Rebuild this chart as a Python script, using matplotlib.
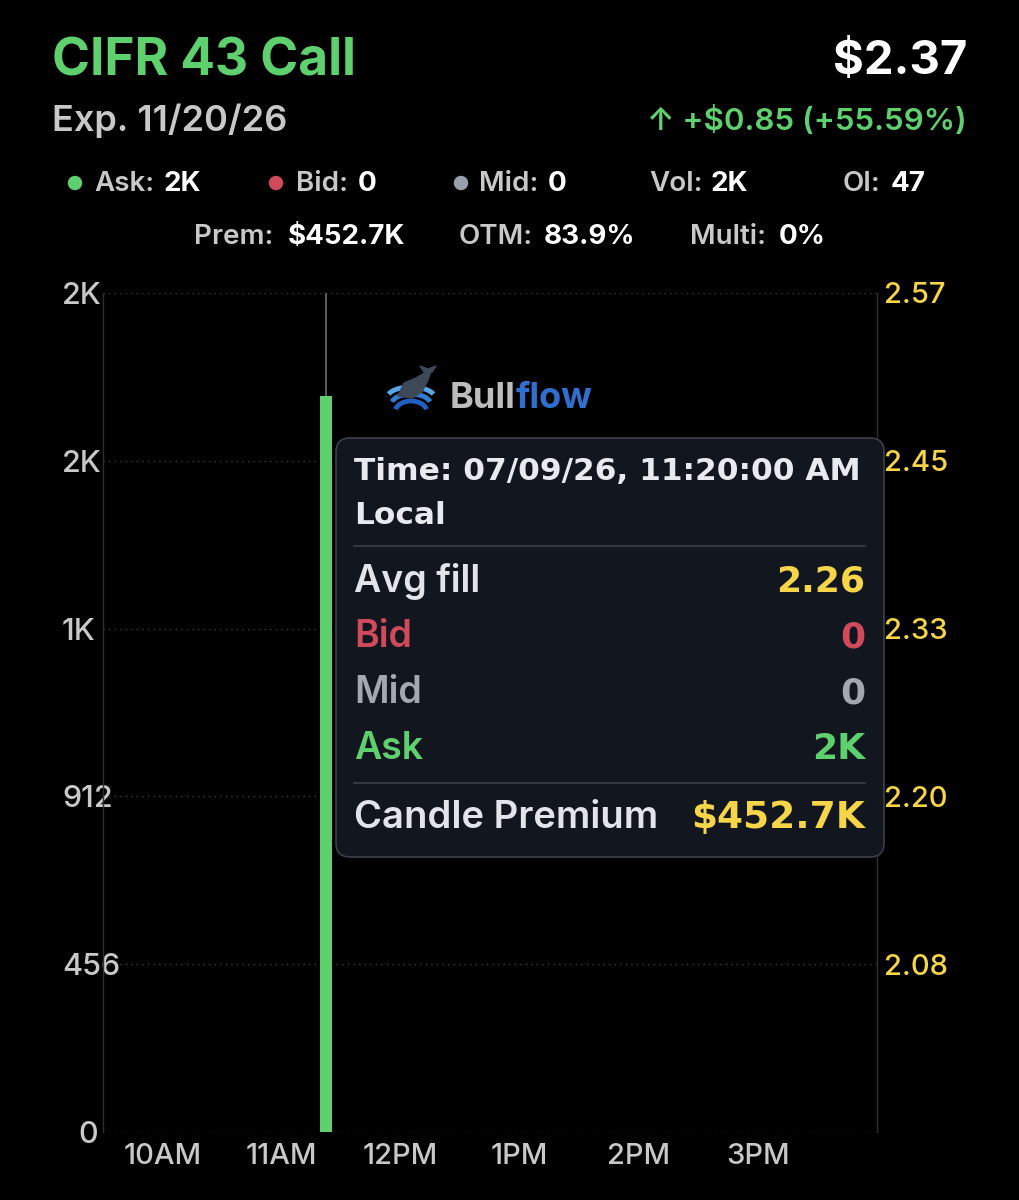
import numpy as np
import matplotlib
matplotlib.use("Agg")
import matplotlib.pyplot as plt
from matplotlib.patches import FancyBboxPatch, Arc, Circle, Polygon

plt.rcParams['font.family'] = ['Inter', 'DejaVu Sans']

# ---- data ----
bar_hours = [11 + 22.5 / 60]      # 11:20 candle
bar_volume = [2000]
x_ticks = [10, 11, 12, 13, 14, 15]
x_labels = ['10AM', '11AM', '12PM', '1PM', '2PM', '3PM']
y_ticks = [0, 456, 912, 1368, 1824, 2280]
y_labels = ['0', '456', '912', '1K', '2K', '2K']
price_labels = ['2.08', '2.20', '2.33', '2.45', '2.57']

header_stats = [('Ask:', '2K', '#5fd06e'), ('Bid:', '0', '#d04a5c'),
                ('Mid:', '0', '#9aa0ab'), ('Vol:', '2K', None), ('OI:', '47', None)]
header_stats2 = [('Prem:', '$452.7K'), ('OTM:', '83.9%'), ('Multi:', '0%')]
tip_rows = [('Avg fill', '2.26', '#e2e4ea', '#f7d548'),
            ('Bid', '0', '#d04a5c', '#d04a5c'),
            ('Mid', '0', '#a3a7b0', '#a3a7b0'),
            ('Ask', '2K', '#5fd06e', '#5fd06e')]

GREEN = '#5fd06e'
GREY = '#c8c8c8'
YELLOW = '#f7d548'

fig = plt.figure(figsize=(10.2, 12), dpi=100, facecolor='black')

# ---- chart ----
ax = fig.add_axes([103 / 1020, 68 / 1200, 774 / 1020, 839 / 1200])
ax.set_facecolor('black')
ax.bar(bar_hours, bar_volume, width=0.1, color=GREEN, zorder=3)
ax.vlines(bar_hours, bar_volume, 2280, color='#6a6a6a', lw=1.2, zorder=2)
ax.set_xlim(9.5, 16.0)
ax.set_ylim(0, 2280)
ax.set_yticks(y_ticks)
ax.set_yticklabels(y_labels)
ax.set_xticks(x_ticks)
ax.set_xticklabels(x_labels)
for t in y_ticks:
    ax.axhline(t, color='#3a3a3a', lw=1, ls=(0, (1, 3)), zorder=1)
for s in ['top', 'bottom']:
    ax.spines[s].set_visible(False)
for s in ['left', 'right']:
    ax.spines[s].set_color('#2e2e2e')
    ax.spines[s].set_linewidth(1)
ax.tick_params(axis='x', length=0, colors=GREY, labelsize=21, pad=8)
ax.tick_params(axis='y', length=0, colors=GREY, labelsize=22, pad=0)
for lab in ax.get_xticklabels() + ax.get_yticklabels():
    lab.set_fontweight('medium')
ylabs = ax.get_yticklabels()
for lab in ylabs:
    lab.set_horizontalalignment('left')
    lab.set_x(-41 / 774)
ylabs[0].set_horizontalalignment('right')
ylabs[0].set_x(-5 / 774)

ax2 = ax.twinx()
lo, hi = 1.9575, 2.57
ax2.set_ylim(lo, hi)
ax2.set_yticks(np.linspace(lo, hi, 6)[1:])
ax2.set_yticklabels(price_labels)
ax2.tick_params(axis='y', length=0, colors=YELLOW, labelsize=21, pad=5)
for lab in ax2.get_yticklabels():
    lab.set_fontweight('medium')
for s in ax2.spines.values():
    s.set_visible(False)

# ---- overlay in pixel coords ----
ov = fig.add_axes([0, 0, 1, 1])
ov.set_xlim(0, 1020)
ov.set_ylim(1200, 0)
ov.axis('off')
ov.patch.set_alpha(0)

ov.text(52, 62, 'CIFR 43 Call', color=GREEN, fontsize=37, fontweight='bold', va='center')
ov.text(967, 62, '$2.37', color='white', fontsize=34, fontweight='bold', va='center', ha='right')
ov.text(52, 121, 'Exp. 11/20/26', color=GREY, fontsize=26, fontweight='semibold', va='center')
ov.text(967, 121, '\u2191 +$0.85 (+55.59%)', color=GREEN, fontsize=22.5, fontweight='semibold',
        va='center', ha='right')

stat_x = [(75, 94, 164), (276, 296, 358), (461, 479, 548), (None, 649, 711), (None, 843, 891)]
for (lab, val, dot), (dx, lx, vx) in zip(header_stats, stat_x):
    if dot:
        ov.add_patch(Circle((dx, 183), 6.5, color=dot))
    ov.text(lx, 184, lab, color=GREY, fontsize=20, fontweight='semibold', va='center')
    ov.text(vx, 184, val, color='white', fontsize=20, fontweight='bold', va='center')
stat2_x = [(194, 288), (459, 544), (690, 779)]
for (lab, val), (lx, vx) in zip(header_stats2, stat2_x):
    ov.text(lx, 237, lab, color=GREY, fontsize=20, fontweight='semibold', va='center')
    ov.text(vx, 237, val, color='white', fontsize=20, fontweight='bold', va='center')

# logo
for i, c in enumerate(['#57a6e6', '#2f7fd6', '#1f5fbf']):
    ov.add_patch(Arc((411, 398 + i * 7), 48 - i * 8, 22, theta1=190, theta2=350,
                     color=c, lw=3.5))
ov.add_patch(Polygon([[398, 396], [404, 383], [416, 378], [426, 372], [432, 368],
                      [428, 380], [422, 392], [412, 398]], closed=True, color='#3d4858'))
ov.add_patch(Polygon([[424, 372], [420, 366], [428, 369], [436, 366], [432, 372]],
                     closed=True, color='#3d4858'))
t_bull = ov.text(450, 398, 'Bull', color='#bdbdbd', fontsize=26, fontweight='bold', va='center')
fig.canvas.draw()
bb = t_bull.get_window_extent()
ov.text(450 + bb.width, 398, 'flow', color='#2f6fd0', fontsize=26, fontweight='bold', va='center')

# tooltip
box = FancyBboxPatch((336, 438), 548, 419, boxstyle='round,pad=0,rounding_size=14',
                     fc='#12161f', ec='#3a3f4a', lw=1.2, zorder=5)
ov.add_patch(box)
ov.text(354, 472, 'Time: 07/09/26, 11:20:00 AM', color='#e8eaef', fontsize=22.5,
        fontweight='bold', family='DejaVu Sans', va='center', zorder=6)
ov.text(354, 515, 'Local', color='#e8eaef', fontsize=22.5, fontweight='bold',
        family='DejaVu Sans', va='center', zorder=6)
ov.plot([354, 865], [546, 546], color='#3a3f4a', lw=1.2, zorder=6)
for i, (lab, val, lc, vc) in enumerate(tip_rows):
    y = 581 + i * 56
    ov.text(354, y, lab, color=lc, fontsize=27, fontweight='semibold', va='center', zorder=6)
    ov.text(865, y, val, color=vc, fontsize=26, fontweight='bold', family='DejaVu Sans',
            va='center', ha='right', zorder=6)
ov.plot([354, 865], [783, 783], color='#3a3f4a', lw=1.2, zorder=6)
ov.text(354, 818, 'Candle Premium', color='#e2e4ea', fontsize=27.5, fontweight='semibold',
        va='center', zorder=6)
ov.text(865, 818, '$452.7K', color=YELLOW, fontsize=27, fontweight='bold', family='DejaVu Sans',
        va='center', ha='right', zorder=6)

fig.savefig('out.png', dpi=100, facecolor='black')
